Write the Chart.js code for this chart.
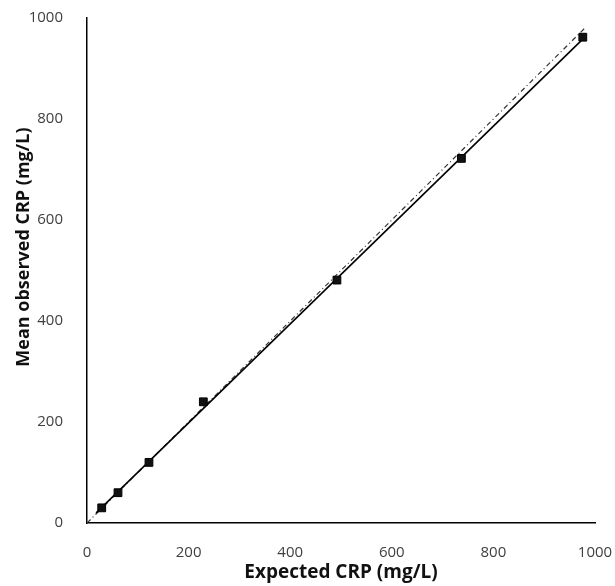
<!DOCTYPE html>
<html>
<head>
<meta charset="utf-8">
<script src="https://cdn.jsdelivr.net/npm/chart.js"></script>
<style>
  html, body { margin: 0; padding: 0; background: #fff; }
  #wrap { width: 615px; height: 586px; }
</style>
</head>
<body>
<div id="wrap"><canvas id="crpChart" width="615" height="586"></canvas></div>
<script>
// values
const expectedCrp = [29, 61, 122, 229, 492, 737, 976];
const observedCrp = [30, 60, 120, 240, 481, 722, 962];
const fitX = [18, 980];
const fitY = [20, 962];
const identityX = [0, 980];
const identityY = [0, 980];
const tickValues = [0, 200, 400, 600, 800, 1000];

const toPoints = (xs, ys) => xs.map((x, i) => ({ x: x, y: ys[i] }));

const tickFont = { family: 'Open Sans', size: 15 };

new Chart(document.getElementById('crpChart'), {
  type: 'scatter',
  data: {
    datasets: [
      {
        label: 'Mean observed',
        data: toPoints(expectedCrp, observedCrp),
        pointStyle: 'rect',
        pointRadius: 5.5,
        backgroundColor: '#111',
        borderColor: '#000',
        borderWidth: 1,
        showLine: false
      },
      {
        label: 'Fit',
        data: toPoints(fitX, fitY),
        showLine: true,
        borderColor: '#000',
        borderWidth: 1.6,
        pointRadius: 0
      },
      {
        label: 'Identity',
        data: toPoints(identityX, identityY),
        showLine: true,
        borderColor: '#333',
        borderWidth: 1.2,
        borderDash: [5, 3, 1, 3],
        pointRadius: 0
      }
    ]
  },
  options: {
    responsive: false,
    animation: false,
    layout: { padding: { top: 18, right: 20, left: 0, bottom: 0 } },
    plugins: { legend: { display: false }, tooltip: { enabled: false } },
    scales: {
      x: {
        type: 'linear',
        min: 0,
        max: 1000,
        afterBuildTicks: s => { s.ticks = tickValues.map(v => ({ value: v })); },
        afterFit: s => { s.height = 63; s.paddingRight = 0; s.paddingLeft = 0; },
        grid: { display: false },
        border: { display: true, color: '#000', width: 1.5 },
        ticks: { font: tickFont, color: '#404040', padding: 13, maxRotation: 0, callback: v => String(v) },
        title: { display: true, text: 'Expected CRP (mg/L)', font: { family: 'Open Sans', size: 19, weight: 'bold' }, color: '#111', padding: { top: 0, bottom: 2 } }
      },
      y: {
        type: 'linear',
        min: 0,
        max: 1000,
        afterBuildTicks: s => { s.ticks = tickValues.map(v => ({ value: v })); },
        afterFit: s => { s.width = 87; s.paddingTop = 0; s.paddingBottom = 0; },
        grid: { display: false },
        border: { display: true, color: '#000', width: 1.5 },
        ticks: { font: tickFont, color: '#404040', padding: 16, callback: v => String(v) },
        title: { display: true, text: '          Mean observed CRP (mg/L)', font: { family: 'Open Sans', size: 18, weight: 'bold' }, color: '#111', padding: { top: 13, bottom: 0 } }
      }
    }
  }
});
</script>
</body>
</html>
